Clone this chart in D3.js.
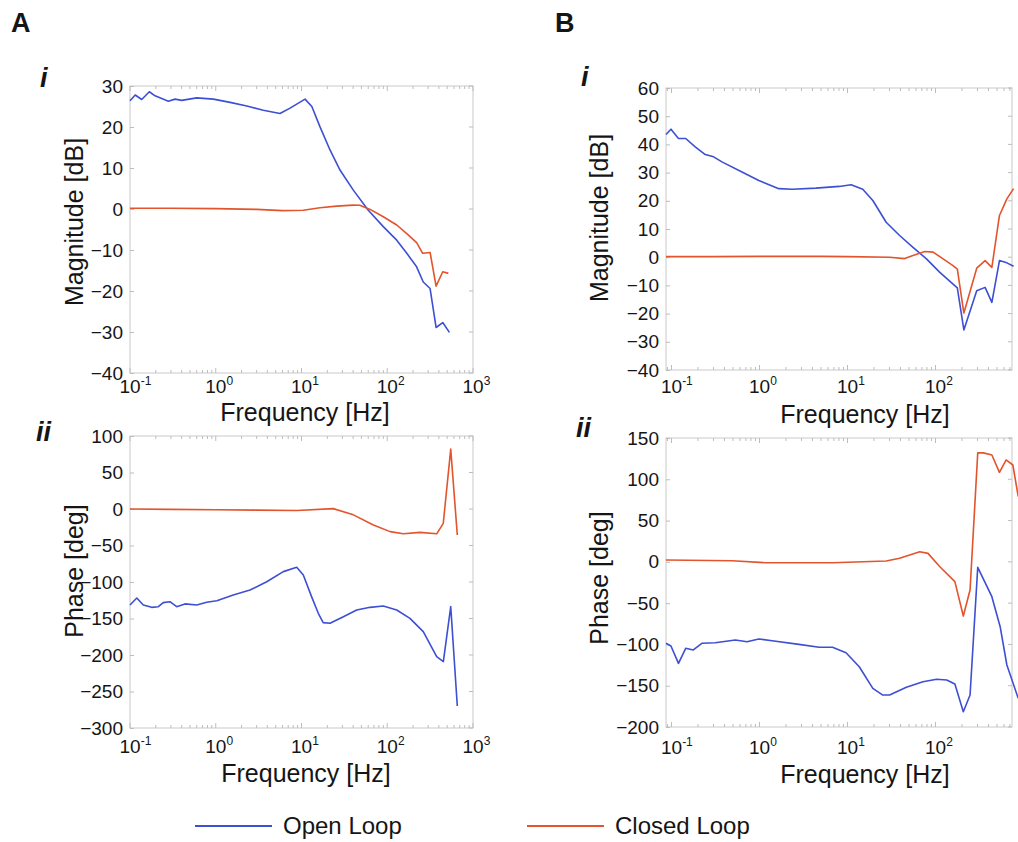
<!DOCTYPE html>
<html><head><meta charset="utf-8">
<script src="https://cdn.jsdelivr.net/npm/d3@7"></script>
<style>body{margin:0;background:#fff} text{font-family:"Liberation Sans",Arial,sans-serif;fill:#151515}</style>
</head><body><svg id="c" width="1018" height="842"></svg>
<script>
// ---------- DATA ----------
// Panel A i : magnitude
const aMagOpenF  = [0.100,0.115,0.137,0.168,0.196,0.280,0.335,0.401,0.600,0.938,1.47,2.30,3.59,5.61,7.35,11.0,13.2,16.4,21.5,28.1,40.2,60.1,89.9,129,169,220,263,316,371,444,530];
const aMagOpenV  = [26.4,27.8,26.7,28.6,27.6,26.3,26.8,26.5,27.1,26.8,26.0,25.1,24.1,23.3,24.6,26.8,25.0,20.1,14.4,9.5,4.6,-0.3,-4.3,-7.6,-10.8,-14.1,-17.8,-19.4,-28.9,-27.7,-30.1];
const aMagClosedF = [0.100,0.30,1.0,3.0,6.0,10.5,16.4,25.7,40.0,47.9,63.1,89.9,129,169,220,259,316,371,444,516];
const aMagClosedV = [0.2,0.2,0.1,-0.1,-0.4,-0.3,0.3,0.7,0.95,0.9,-0.1,-1.9,-3.9,-6.0,-8.2,-10.8,-10.6,-18.8,-15.3,-15.7];
// Panel A ii : phase
const aPhOpenF  = [0.100,0.120,0.143,0.179,0.214,0.244,0.292,0.350,0.438,0.600,0.783,1.03,1.60,2.51,3.93,6.14,8.79,10.5,13.1,15.7,17.9,21.5,30.8,44.0,63.0,89.9,129,184,263,377,451,550,656];
const aPhOpenV  = [-131.5,-122,-131.5,-134.7,-133.8,-128.3,-127,-133.8,-130,-131.5,-127.8,-125.6,-117.8,-111,-99.6,-85.8,-79.9,-90.4,-120,-142.9,-155.7,-156.6,-147.5,-138.4,-134.7,-132.9,-138.4,-149.8,-168,-202.3,-209,-133.8,-269.9];
const aPhClosedF = [0.100,0.30,1.0,3.0,8.8,23.5,40.3,68.9,108,154,241,377,450,550,656];
const aPhClosedV = [0,-0.5,-1,-1.5,-2,0.5,-8,-22,-31,-34,-32,-34,-19.6,82,-35.6];
// Panel B i : magnitude
const bMagOpenF  = [0.0866,0.0986,0.120,0.145,0.186,0.242,0.301,0.374,0.632,0.982,1.66,2.36,4.37,8.05,11.0,14.9,19.4,27.5,39.1,55.5,78.9,112,146,177,210,294,366,437,533,647,771];
const bMagOpenV  = [43.5,45.4,42.1,42.1,39.1,36.4,35.6,33.8,30.2,27.2,24.3,24.1,24.5,25.1,25.7,24.1,20.1,12.4,7.7,3.5,-0.6,-5.4,-8.6,-10.9,-25.8,-11.9,-10.7,-16.0,-1.2,-2.0,-3.2];
const bMagClosedF = [0.0866,0.3,1.0,5.0,10,30.0,44.6,55.5,75.5,94.0,122,158,177,210,294,366,437,533,647,771];
const bMagClosedV = [0.2,0.2,0.3,0.3,0.2,0,-0.5,0.6,2.0,1.8,-0.6,-3.0,-4.2,-19.8,-3.9,-1.2,-3.6,14.8,20.7,24.3];
// Panel B ii : phase
const bPhOpenF  = [0.0866,0.0986,0.120,0.145,0.177,0.221,0.314,0.532,0.721,0.982,1.39,2.81,4.76,6.76,9.62,13.6,19.4,25.2,30.1,46.6,72.1,103,134,166,207,247,302,437,543,647,871];
const bPhOpenV  = [-98.6,-101.9,-122.9,-104.7,-106.7,-98.6,-97.9,-94.6,-96.7,-93.4,-95.5,-99.9,-103.5,-103.5,-110,-127,-153.2,-161.3,-161.3,-151.9,-145.1,-142.2,-143,-147.9,-181.5,-161.3,-6.6,-42.2,-78.5,-124.9,-165.3];
const bPhClosedF = [0.0866,0.486,1.17,6.76,27.5,39.1,66.2,82.2,112,166,207,247,302,350,437,533,635,757,871];
const bPhClosedV = [2.2,1.4,-1.0,-1.0,1.0,4.3,12.3,10.3,-5.9,-24.0,-65.6,-34.1,132.2,132,129.4,108.4,123.4,117.3,79];
// Tick values
const aXTicks = [0.1,1,10,100,1000];
const bXTicks = [0.1,1,10,100];
const aMagTicks = [30,20,10,0,-10,-20,-30,-40];
const aPhTicks = [100,50,0,-50,-100,-150,-200,-250,-300];
const bMagTicks = [60,50,40,30,20,10,0,-10,-20,-30,-40];
const bPhTicks = [150,100,50,0,-50,-100,-150,-200];
const seriesNames = ["Open Loop","Closed Loop"];
const colors = {open:"#3d4fd3", closed:"#e2542c"};

// ---------- DRAWING ----------
const svg = d3.select("#c");
const zip = (f,v)=>f.map((d,i)=>[d,v[i]]);

function panel(o){
  const x = d3.scaleLog().domain(o.xd).range(o.xr);
  const y = d3.scaleLinear().domain(o.yd).range(o.yr);
  const g = svg.append("g");
  const x0=o.xr[0], x1=o.xr[1], yT=o.yr[1], yB=o.yr[0];
  g.append("rect").attr("x",x0).attr("y",yT).attr("width",x1-x0).attr("height",yB-yT)
    .attr("fill","none").attr("stroke","#c9c9c9").attr("stroke-width",1);
  // minor x ticks
  const minors=[];
  for(let e=-2;e<=3;e++) for(let m=1;m<10;m++){const v=m*Math.pow(10,e); if(v>=o.xd[0]&&v<=o.xd[1]) minors.push(v);}
  minors.forEach(v=>{
    const big = Math.abs(Math.log10(v)-Math.round(Math.log10(v)))<1e-9;
    const L = big?5:3;
    g.append("line").attr("x1",x(v)).attr("x2",x(v)).attr("y1",yB).attr("y2",yB-L).attr("stroke","#bdbdbd");
    g.append("line").attr("x1",x(v)).attr("x2",x(v)).attr("y1",yT).attr("y2",yT+L).attr("stroke","#bdbdbd");
  });
  // y axis
  const ya = g.append("g").attr("transform",`translate(${x0},0)`)
    .call(d3.axisLeft(y).tickValues(o.yt).tickSizeInner(-4).tickSizeOuter(0).tickPadding(7));
  ya.select(".domain").remove();
  ya.selectAll("line").attr("stroke","#bdbdbd");
  ya.selectAll("text").attr("font-size",19).attr("fill","#151515")
    .attr("font-family","Liberation Sans, Arial, sans-serif");
  o.yt.forEach(v=>g.append("line").attr("x1",x1).attr("x2",x1-4).attr("y1",y(v)).attr("y2",y(v)).attr("stroke","#bdbdbd"));
  // x tick labels
  o.xt.forEach(v=>{
    const e=Math.round(Math.log10(v));
    const t=g.append("text").attr("x",x(v)-10.5).attr("y",o.xlabY).attr("font-size",19).text("10");
    t.append("tspan").attr("font-size",12).attr("dy",-8).text(e);
  });
  // titles
  g.append("text").attr("x",o.xTitle[0]).attr("y",o.xTitle[1]).attr("text-anchor","middle")
    .attr("font-size",25).text("Frequency [Hz]");
  g.append("text").attr("transform",`translate(${o.yTitle[0]},${o.yTitle[1]}) rotate(-90)`)
    .attr("text-anchor","middle").attr("font-size",25).text(o.yLabel);
  // lines
  const line = d3.line().x(d=>x(d[0])).y(d=>y(d[1]));
  o.series.forEach(s=>{
    g.append("path").datum(s.data).attr("d",line).attr("fill","none")
      .attr("stroke",s.color).attr("stroke-width",1.6).attr("stroke-linejoin","round");
  });
}

panel({xd:[0.1,1000], xr:[130,473], yd:[-40,30], yr:[373,86], yt:aMagTicks, xt:aXTicks, xlabY:393,
  xTitle:[305,421], yTitle:[83,222], yLabel:"Magnitude [dB]",
  series:[{data:zip(aMagOpenF,aMagOpenV),color:colors.open},{data:zip(aMagClosedF,aMagClosedV),color:colors.closed}]});
panel({xd:[0.1,1000], xr:[130,473], yd:[-300,100], yr:[728,436], yt:aPhTicks, xt:aXTicks, xlabY:753,
  xTitle:[306,782], yTitle:[83,571], yLabel:"Phase [deg]",
  series:[{data:zip(aPhOpenF,aPhOpenV),color:colors.open},{data:zip(aPhClosedF,aPhClosedV),color:colors.closed}]});
panel({xd:[0.0866,740], xr:[666,1012], yd:[-40,60], yr:[370,88], yt:bMagTicks, xt:bXTicks, xlabY:393,
  xTitle:[865,423], yTitle:[608,218], yLabel:"Magnitude [dB]",
  series:[{data:zip(bMagOpenF,bMagOpenV),color:colors.open},{data:zip(bMagClosedF,bMagClosedV),color:colors.closed}]});
panel({xd:[0.0866,740], xr:[666,1012], yd:[-200,150], yr:[727,438], yt:bPhTicks, xt:bXTicks, xlabY:754,
  xTitle:[865,783], yTitle:[608,578], yLabel:"Phase [deg]",
  series:[{data:zip(bPhOpenF,bPhOpenV),color:colors.open},{data:zip(bPhClosedF,bPhClosedV),color:colors.closed}]});

// panel letters
const lab=(t,x,y,style)=>svg.append("text").attr("x",x).attr("y",y).attr("font-size",27)
  .attr("font-weight","bold").attr("font-style",style||"normal").text(t);
lab("A",11,32); lab("B",555,32);
lab("i",40,87,"italic"); lab("i",581,86,"italic");
lab("ii",36,441,"italic"); lab("ii",576,437,"italic");

// legend
const leg=[{x:195,c:colors.open,n:seriesNames[0]},{x:527,c:colors.closed,n:seriesNames[1]}];
leg.forEach(l=>{
  svg.append("line").attr("x1",l.x).attr("x2",l.x+77).attr("y1",826).attr("y2",826)
    .attr("stroke",l.c).attr("stroke-width",1.8);
  svg.append("text").attr("x",l.x+88).attr("y",834).attr("font-size",24).text(l.n);
});
</script></body></html>
